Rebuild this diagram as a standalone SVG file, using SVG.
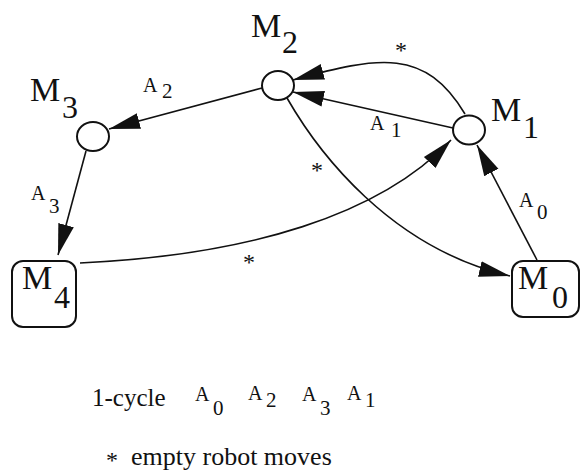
<svg xmlns="http://www.w3.org/2000/svg" width="581" height="472" viewBox="0 0 581 472">
<defs>
<marker id="ah" markerUnits="userSpaceOnUse" markerWidth="32" markerHeight="18" refX="31" refY="9" orient="auto">
<path d="M0,1 L31,9 L0,17 z" fill="#111"/>
</marker>
</defs>
<rect width="581" height="472" fill="#fff"/>
<g id="connectors" fill="none" stroke="#111" stroke-width="1.6" marker-end="url(#ah)">
<path d="M262,88 L109,129"/>
<path d="M86,151 L58,255"/>
<path d="M80,263 C250,255 380,215 451,140"/>
<path d="M287,98 C318,152 390,248 510,276"/>
<path d="M453,128 L293,92"/>
<path d="M465,114 C425,48 380,56 293,80"/>
<path d="M537,260 L477,145"/>
</g>
<g id="nodes" fill="#111">
<g id="M2"><ellipse fill="#fff" stroke="#111" stroke-width="2" cx="278" cy="85.5" rx="16" ry="14.5"/><text font-family="Liberation Serif" font-size="34" x="251" y="37">M</text><text font-family="Liberation Serif" font-size="32" x="282" y="53">2</text></g>
<g id="M3"><ellipse fill="#fff" stroke="#111" stroke-width="2" cx="93" cy="136.5" rx="16" ry="14.5"/><text font-family="Liberation Serif" font-size="34" x="30" y="101">M</text><text font-family="Liberation Serif" font-size="32" x="62" y="118">3</text></g>
<g id="M1"><ellipse fill="#fff" stroke="#111" stroke-width="2" cx="469" cy="130" rx="16" ry="14.5"/><text font-family="Liberation Serif" font-size="34" x="491" y="121">M</text><text font-family="Liberation Serif" font-size="32" x="523" y="138">1</text></g>
<g id="M4"><rect fill="#fff" stroke="#111" stroke-width="2" x="12" y="261" width="64" height="66" rx="11"/><text font-family="Liberation Serif" font-size="34" x="22" y="289">M</text><text font-family="Liberation Serif" font-size="32" x="54" y="308">4</text></g>
<g id="M0"><rect fill="#fff" stroke="#111" stroke-width="2" x="512" y="261" width="67" height="56" rx="11"/><text font-family="Liberation Serif" font-size="34" x="518" y="289">M</text><text font-family="Liberation Serif" font-size="32" x="552" y="308">0</text></g>
</g>
<g id="edge-labels" fill="#111">
<text font-family="Liberation Serif" font-size="20" x="143" y="92">A</text><text font-family="Liberation Serif" font-size="21" x="162" y="98">2</text>
<text font-family="Liberation Serif" font-size="20" x="31" y="200">A</text><text font-family="Liberation Serif" font-size="21" x="49" y="213">3</text>
<text font-family="Liberation Serif" font-size="20" x="370" y="130">A</text><text font-family="Liberation Serif" font-size="21" x="391" y="137">1</text>
<text font-family="Liberation Serif" font-size="20" x="519" y="207">A</text><text font-family="Liberation Serif" font-size="21" x="537" y="219">0</text>
<text font-family="Liberation Serif" font-size="24" x="401" y="58" text-anchor="middle">*</text>
<text font-family="Liberation Serif" font-size="24" x="317" y="178" text-anchor="middle">*</text>
<text font-family="Liberation Serif" font-size="24" x="249" y="270" text-anchor="middle">*</text>
</g>
<g id="legend" fill="#111">
<text font-family="Liberation Serif" font-size="25" x="92" y="406">1-cycle</text>
<text font-family="Liberation Serif" font-size="20" x="195" y="401">A</text><text font-family="Liberation Serif" font-size="21" x="213" y="415">0</text>
<text font-family="Liberation Serif" font-size="20" x="248" y="400">A</text><text font-family="Liberation Serif" font-size="21" x="266" y="407">2</text>
<text font-family="Liberation Serif" font-size="20" x="302" y="401">A</text><text font-family="Liberation Serif" font-size="21" x="320" y="415">3</text>
<text font-family="Liberation Serif" font-size="20" x="347" y="400">A</text><text font-family="Liberation Serif" font-size="21" x="365" y="407">1</text>
<text font-family="Liberation Serif" font-size="24" x="106" y="468">*</text>
<text font-family="Liberation Serif" font-size="26" x="131" y="465">empty robot moves</text>
</g>
</svg>
